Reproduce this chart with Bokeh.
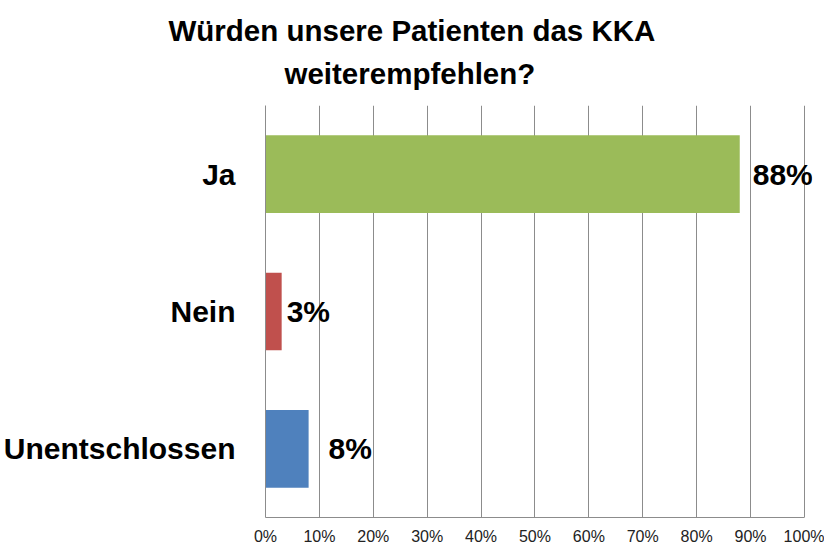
from bokeh.plotting import figure
from bokeh.models import FactorRange, Range1d, FixedTicker, PrintfTickFormatter, Title, ColumnDataSource
from bokeh.core.properties import value
from bokeh.embed import file_html
from bokeh.resources import INLINE

categories = ["Ja", "Nein", "Unentschlossen"]
values = [88, 3, 8]
value_labels = ["88%", "3%", "8%"]
colors = ["#9BBB59", "#C0504D", "#4F81BD"]
label_offsets = [13, 5, 20]
x_ticks = [0, 10, 20, 30, 40, 50, 60, 70, 80, 90, 100]
title_line1 = "Würden unsere Patienten das KKA"
title_line2 = "weiterempfehlen?"

FONT = "Liberation Sans"

src = ColumnDataSource(dict(cat=categories, val=values, lab=value_labels,
                            col=colors, off=label_offsets))

p = figure(width=824, height=544, y_range=FactorRange(*categories[::-1], range_padding=0),
           x_range=Range1d(0, 101.5), output_backend="svg", toolbar_location=None)
p.frame_height = 412
p.min_border_left = 257
p.min_border_right = 12
p.min_border_bottom = 34
p.min_border_top = 96
p.outline_line_color = None
p.background_fill_color = "white"
p.border_fill_color = "white"

p.hbar(y="cat", right="val", left=0, height=0.565, color="col", line_color=None, source=src)
p.text(x="val", y="cat", text="lab", x_offset="off", text_baseline="middle", text_align="left",
       text_font=value(FONT), text_font_style="bold", text_font_size="30px", text_color="black",
       source=src)

# titles (later added sits further from plot); t0 is a spacer next to the plot
t0 = Title(text=" ", text_font_size="1px", standoff=15)
t2 = Title(text=title_line2, align="left", text_font=FONT, text_font_style="bold",
           text_font_size="29.5px", text_color="black", offset=19, standoff=-5)
t1 = Title(text=title_line1, align="left", text_font=FONT, text_font_style="bold",
           text_font_size="29.5px", text_color="black", offset=-97, standoff=22)
p.add_layout(t0, "above")
p.add_layout(t2, "above")
p.add_layout(t1, "above")

p.xaxis.axis_label = None
p.yaxis.axis_label = None
p.xaxis.ticker = FixedTicker(ticks=x_ticks)
p.xaxis.formatter = PrintfTickFormatter(format="%d%%")
p.xaxis.bounds = (0, 100)
p.xaxis.major_label_text_font = FONT
p.xaxis.major_label_text_font_size = "16px"
p.xaxis.major_label_text_color = "#222222"
p.xaxis.major_tick_line_color = None
p.xaxis.major_tick_out = 0
p.xaxis.major_tick_in = 0
p.xaxis.minor_tick_line_color = None
p.xaxis.minor_tick_out = 0
p.xaxis.axis_label_standoff = 0
p.xaxis.axis_line_color = "#8c8c8c"
p.xaxis.major_label_standoff = 10

p.yaxis.major_label_text_font = FONT
p.yaxis.major_label_text_font_style = "bold"
p.yaxis.major_label_text_font_size = "30px"
p.yaxis.major_label_text_color = "black"
p.yaxis.major_tick_line_color = None
p.yaxis.major_tick_out = 0
p.yaxis.major_tick_in = 0
p.yaxis.minor_tick_line_color = None
p.yaxis.minor_tick_out = 0
p.yaxis.axis_label_standoff = 0
p.yaxis.axis_line_color = "#8c8c8c"
p.yaxis.major_label_standoff = 30

p.xgrid.grid_line_color = "#8c8c8c"
p.ygrid.grid_line_color = None

open("out.html", "w").write(file_html(p, INLINE))
